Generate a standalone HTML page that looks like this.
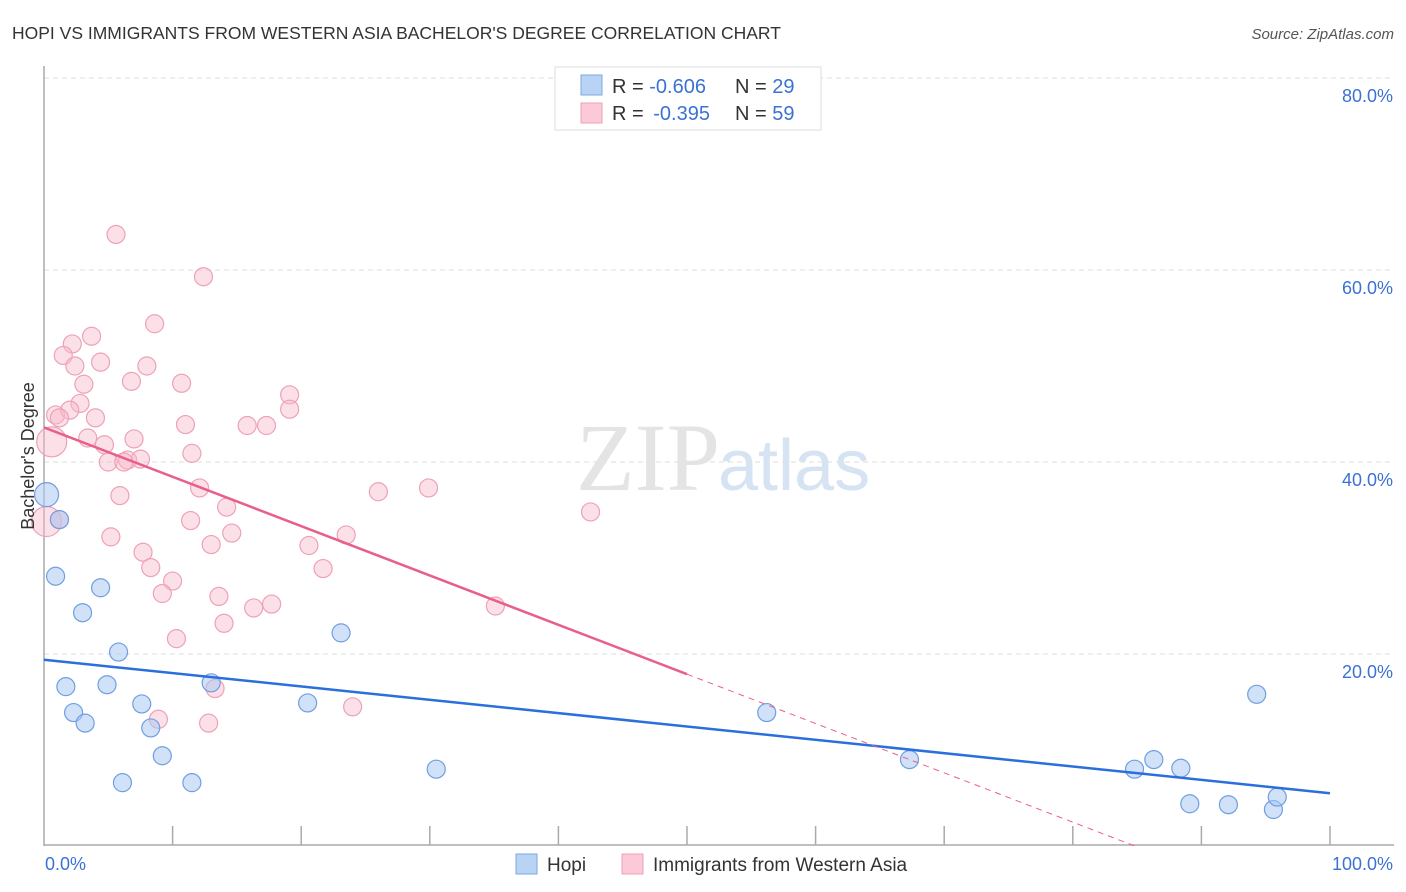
<!DOCTYPE html>
<html><head><meta charset="utf-8"><style>
body{margin:0;background:#fff;font-family:"Liberation Sans",sans-serif;}
svg{display:block}
</style></head><body>
<svg id="chart" width="1406" height="892" xmlns="http://www.w3.org/2000/svg">
<text x="12" y="39" font-size="17.5" fill="#333">HOPI VS IMMIGRANTS FROM WESTERN ASIA BACHELOR'S DEGREE CORRELATION CHART</text>
<text x="1394" y="39" font-size="15" fill="#555" font-style="italic" text-anchor="end">Source: ZipAtlas.com</text>
<g id="grid"></g>
<text x="720" y="490" font-size="96" font-family="Liberation Serif,serif" fill="#e4e4e4" text-anchor="end">ZIP</text>
<text x="718" y="490" font-size="72" fill="#d6e3f3">atlas</text>
<g id="axes"></g>
<g id="pts"></g>
<g id="lines"></g>
<text transform="translate(34,456) rotate(-90)" font-size="18" fill="#333" text-anchor="middle">Bachelor's Degree</text>
<g>
<rect x="555" y="67" width="266" height="63" fill="#fff" stroke="#ddd"/>
<rect x="581" y="75" width="21" height="20" fill="#b9d3f5" stroke="#7aa7e6"/>
<rect x="581" y="103" width="21" height="20" fill="#fbc9d7" stroke="#eea1b7"/>
<text x="612" y="93" font-size="20" fill="#333">R = <tspan fill="#3a72d4">-0.606</tspan><tspan x="735">N = </tspan><tspan fill="#3a72d4">29</tspan></text>
<text x="612" y="120" font-size="20" fill="#333">R = <tspan fill="#3a72d4" dx="4">-0.395</tspan><tspan x="735">N = </tspan><tspan fill="#3a72d4">59</tspan></text>
</g>
<g>
<rect x="516" y="854" width="21" height="20" fill="#b9d3f5" stroke="#7aa7e6"/>
<text x="547" y="871" font-size="19" fill="#333">Hopi</text>
<rect x="622" y="854" width="21" height="20" fill="#fbc9d7" stroke="#eea1b7"/>
<text x="653" y="871" font-size="19" fill="#333">Immigrants from Western Asia</text>
</g>
</svg>
<script>
const yTicks=[20,40,60,80];
const yTickLabels=["20.0%","40.0%","60.0%","80.0%"];
const xTickLabels=["0.0%","100.0%"];
const hopiX=[0.2,1.2,0.9,4.4,3.0,5.8,1.7,4.9,13.0,2.3,3.2,7.6,8.3,9.2,6.1,11.5,20.5,23.1,30.5,56.2,67.3,84.8,86.3,88.4,89.1,92.1,94.3,95.6,95.9];
const hopiY=[36.6,34.0,28.1,26.9,24.3,20.2,16.6,16.8,17.0,13.9,12.8,14.8,12.3,9.4,6.6,6.6,14.9,22.2,8.0,13.9,9.0,8.0,9.0,8.1,4.4,4.3,15.8,3.8,5.1];
const immX=[5.6,12.4,8.6,3.7,2.2,1.5,4.4,2.4,8.0,3.1,10.7,6.8,19.1,2.8,19.1,0.9,2.0,4.0,1.2,11.0,15.8,17.3,3.4,7.0,4.7,11.5,0.6,5.0,6.5,7.5,6.2,12.1,26.0,29.9,5.9,14.2,11.4,14.6,23.5,5.2,13.0,20.6,7.7,8.3,21.7,10.0,9.2,13.6,17.7,16.3,35.1,42.5,14.0,10.3,24.0,8.9,12.8,13.3,0.2,1.2];
const immY=[63.7,59.3,54.4,53.1,52.3,51.1,50.4,50.0,50.0,48.1,48.2,48.4,47.0,46.1,45.5,44.9,45.4,44.6,44.6,43.9,43.8,43.8,42.5,42.4,41.8,40.9,42.1,40.0,40.2,40.3,40.0,37.3,36.9,37.3,36.5,35.3,33.9,32.6,32.4,32.2,31.4,31.3,30.6,29.0,28.9,27.6,26.3,26.0,25.2,24.8,25.0,34.8,23.2,21.6,14.5,13.2,12.8,16.4,33.8,34.0];
const hopiTrend=[19.4,5.5];
const immTrend=[43.6,-7.8];
const immSolidEnd=50;
const X0=44,X1=1330,Y0=846,YPER=9.6;
const sx=v=>X0+(X1-X0)*v/100, sy=v=>Y0-v*YPER;
const NS="http://www.w3.org/2000/svg";
function mk(parent,tag,attrs){const e=document.createElementNS(NS,tag);for(const k in attrs)e.setAttribute(k,attrs[k]);parent.appendChild(e);return e;}
const grid=document.getElementById('grid'),axes=document.getElementById('axes'),pts=document.getElementById('pts'),lines=document.getElementById('lines');
yTicks.forEach((t,i)=>{
 const l=mk(grid,'line',{x1:X0,x2:1394,y1:sy(t),y2:sy(t),stroke:'#ddd','stroke-dasharray':'5,4'});
 
 
 const tx=mk(grid,'text',{x:1393,y:sy(t)+24,'font-size':18,fill:'#3a72d4','text-anchor':'end'});
 tx.textContent=yTickLabels[i];
 
 
});
const ya=mk(axes,'line',{x1:X0,x2:X0,y1:66,y2:846,stroke:'#aaa','stroke-width':1.5});


const xa=mk(axes,'line',{x1:X0,x2:1394,y1:845,y2:845,stroke:'#aaa','stroke-width':1.5});


for(let i=1;i<=10;i++){
 const t=mk(axes,'line',{x1:sx(i*10),x2:sx(i*10),y1:826,y2:845,stroke:'#aaa','stroke-width':1.5});
 
 
}
[[0,'start',45],[100,'end',1393]].forEach((d,i)=>{
 const tx=mk(axes,'text',{x:d[2],y:870,'font-size':18,fill:'#3a72d4','text-anchor':d[1]});
 tx.textContent=xTickLabels[i];
 
 
});
immX.forEach((x,i)=>{
 const big=(i==26||i==58);
 const c=mk(pts,'circle',{cx:sx(x),cy:sy(immY[i]),r:big?15:9,fill:'rgba(248,186,205,0.45)',stroke:'#eea1b7','stroke-width':1.2});
 
 
});
hopiX.forEach((x,i)=>{
 const c=mk(pts,'circle',{cx:sx(x),cy:sy(hopiY[i]),r:i==0?12:9,fill:'rgba(170,200,242,0.55)',stroke:'#6f9fe0','stroke-width':1.2});
 
 
});
const f=(tr,x)=>tr[0]+(tr[1]-tr[0])*x/100;
const bl=mk(lines,'line',{x1:sx(0),y1:sy(f(hopiTrend,0)),x2:sx(100),y2:sy(f(hopiTrend,100)),stroke:'#2a6fdb','stroke-width':2.5});


const pl=mk(lines,'line',{x1:sx(0),y1:sy(f(immTrend,0)),x2:sx(immSolidEnd),y2:sy(f(immTrend,immSolidEnd)),stroke:'#e8608a','stroke-width':2.5});


const xz=-immTrend[0]/(immTrend[1]-immTrend[0])*100;
const pd=mk(lines,'line',{x1:sx(immSolidEnd),y1:sy(f(immTrend,immSolidEnd)),x2:sx(xz),y2:sy(0),stroke:'#e8608a','stroke-width':1,'stroke-dasharray':'6,5'});


</script>
</body></html>
